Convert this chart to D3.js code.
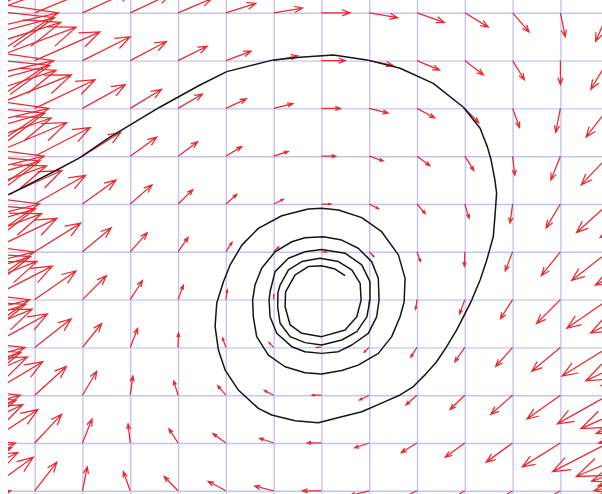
<!DOCTYPE html>
<html>
<head>
<meta charset="utf-8">
<script src="https://cdn.jsdelivr.net/npm/d3@7"></script>
<style>
  html, body { margin: 0; padding: 0; background: #ffffff; }
  svg { display: block; }
</style>
</head>
<body>
<svg id="chart" width="602" height="494"></svg>
<script>
// Direction field of x' = y - x^3, y' = -x on a 0.2 lattice, with one solution curve.

// lattice columns (x) and rows (y)
const gridX = [-2.0, -1.8, -1.6, -1.4, -1.2, -1.0, -0.8, -0.6, -0.4, -0.2, 0.0,
               0.2, 0.4, 0.6, 0.8, 1.0, 1.2, 1.4, 1.6, 1.8, 2.0];
const gridY = [1.4, 1.2, 1.0, 0.8, 0.6, 0.4, 0.2, 0.0, -0.2, -0.4, -0.6, -0.8, -1.0];

// horizontal rate x' at each lattice point, one row per gridY entry
const xRate = [
  [9.40, 7.23, 5.50, 4.14, 3.13, 2.40, 1.91, 1.62, 1.46, 1.41, 1.40, 1.39, 1.34, 1.18, 0.89, 0.40, -0.33, -1.34, -2.70, -4.43, -6.60],
  [9.20, 7.03, 5.30, 3.94, 2.93, 2.20, 1.71, 1.42, 1.26, 1.21, 1.20, 1.19, 1.14, 0.98, 0.69, 0.20, -0.53, -1.54, -2.90, -4.63, -6.80],
  [9.00, 6.83, 5.10, 3.74, 2.73, 2.00, 1.51, 1.22, 1.06, 1.01, 1.00, 0.99, 0.94, 0.78, 0.49, 0.00, -0.73, -1.74, -3.10, -4.83, -7.00],
  [8.80, 6.63, 4.90, 3.54, 2.53, 1.80, 1.31, 1.02, 0.86, 0.81, 0.80, 0.79, 0.74, 0.58, 0.29, -0.20, -0.93, -1.94, -3.30, -5.03, -7.20],
  [8.60, 6.43, 4.70, 3.34, 2.33, 1.60, 1.11, 0.82, 0.66, 0.61, 0.60, 0.59, 0.54, 0.38, 0.09, -0.40, -1.13, -2.14, -3.50, -5.23, -7.40],
  [8.40, 6.23, 4.50, 3.14, 2.13, 1.40, 0.91, 0.62, 0.46, 0.41, 0.40, 0.39, 0.34, 0.18, -0.11, -0.60, -1.33, -2.34, -3.70, -5.43, -7.60],
  [8.20, 6.03, 4.30, 2.94, 1.93, 1.20, 0.71, 0.42, 0.26, 0.21, 0.20, 0.19, 0.14, -0.02, -0.31, -0.80, -1.53, -2.54, -3.90, -5.63, -7.80],
  [8.00, 5.83, 4.10, 2.74, 1.73, 1.00, 0.51, 0.22, 0.06, 0.01, 0.00, -0.01, -0.06, -0.22, -0.51, -1.00, -1.73, -2.74, -4.10, -5.83, -8.00],
  [7.80, 5.63, 3.90, 2.54, 1.53, 0.80, 0.31, 0.02, -0.14, -0.19, -0.20, -0.21, -0.26, -0.42, -0.71, -1.20, -1.93, -2.94, -4.30, -6.03, -8.20],
  [7.60, 5.43, 3.70, 2.34, 1.33, 0.60, 0.11, -0.18, -0.34, -0.39, -0.40, -0.41, -0.46, -0.62, -0.91, -1.40, -2.13, -3.14, -4.50, -6.23, -8.40],
  [7.40, 5.23, 3.50, 2.14, 1.13, 0.40, -0.09, -0.38, -0.54, -0.59, -0.60, -0.61, -0.66, -0.82, -1.11, -1.60, -2.33, -3.34, -4.70, -6.43, -8.60],
  [7.20, 5.03, 3.30, 1.94, 0.93, 0.20, -0.29, -0.58, -0.74, -0.79, -0.80, -0.81, -0.86, -1.02, -1.31, -1.80, -2.53, -3.54, -4.90, -6.63, -8.80],
  [7.00, 4.83, 3.10, 1.74, 0.73, 0.00, -0.49, -0.78, -0.94, -0.99, -1.00, -1.01, -1.06, -1.22, -1.51, -2.00, -2.73, -3.74, -5.10, -6.83, -9.00]
];

// vertical rate y' for each column (identical down every row)
const yRate = [2.0, 1.8, 1.6, 1.4, 1.2, 1.0, 0.8, 0.6, 0.4, 0.2, 0.0,
               -0.2, -0.4, -0.6, -0.8, -1.0, -1.2, -1.4, -1.6, -1.8, -2.0];

// grid line positions
const gridLinesX = [-1.2, -1.0, -0.8, -0.6, -0.4, -0.2, 0.0, 0.2, 0.4, 0.6, 0.8, 1.0];
const gridLinesY = [1.2, 1.0, 0.8, 0.6, 0.4, 0.2, 0.0, -0.2, -0.4, -0.6, -0.8];

// solution curve, traced from the left edge and spiralling into the origin
const trajectory = [
  [-1.310, 0.438], [-1.123, 0.534], [-1.014, 0.592], [-0.885, 0.680], [-0.675, 0.806],
  [-0.508, 0.898], [-0.396, 0.954], [-0.201, 1.003], [-0.090, 1.014], [0.050, 1.023],
  [0.190, 1.003], [0.329, 0.968], [0.468, 0.905], [0.594, 0.805], [0.664, 0.717],
  [0.694, 0.640], [0.710, 0.584], [0.726, 0.500], [0.733, 0.445], [0.726, 0.347],
  [0.719, 0.263], [0.692, 0.166], [0.664, 0.082], [0.629, -0.002], [0.594, -0.072],
  [0.566, -0.127], [0.524, -0.197], [0.482, -0.260], [0.433, -0.315], [0.385, -0.364],
  [0.329, -0.399], [0.266, -0.427], [0.169, -0.469], [0.085, -0.490], [-0.013, -0.515],
  [-0.110, -0.507], [-0.208, -0.483], [-0.264, -0.455], [-0.348, -0.378], [-0.403, -0.295],
  [-0.431, -0.211], [-0.445, -0.113], [-0.438, -0.014], [-0.410, 0.075], [-0.382, 0.145],
  [-0.333, 0.228], [-0.264, 0.298], [-0.166, 0.351], [-0.055, 0.379], [0.001, 0.382],
  [0.071, 0.375], [0.169, 0.343], [0.252, 0.284], [0.322, 0.187], [0.350, 0.089],
  [0.346, -0.010], [0.329, -0.072], [0.294, -0.155], [0.238, -0.225], [0.154, -0.274],
  [0.085, -0.297], [0.001, -0.311], [-0.069, -0.306], [-0.152, -0.281], [-0.222, -0.232],
  [-0.271, -0.155], [-0.285, -0.072], [-0.288, -0.002], [-0.278, 0.061], [-0.250, 0.131],
  [-0.194, 0.200], [-0.124, 0.242], [-0.069, 0.259], [0.008, 0.263], [0.085, 0.249],
  [0.154, 0.215], [0.210, 0.159], [0.238, 0.089], [0.241, -0.002], [0.231, -0.072],
  [0.196, -0.141], [0.127, -0.190], [0.071, -0.218], [0.001, -0.225], [-0.069, -0.218],
  [-0.124, -0.197], [-0.187, -0.141], [-0.215, -0.072], [-0.219, -0.002], [-0.215, 0.033],
  [-0.194, 0.117], [-0.138, 0.173], [-0.069, 0.200], [0.001, 0.210], [0.099, 0.194],
  [0.169, 0.145], [0.203, 0.075], [0.203, -0.002], [0.190, -0.072], [0.148, -0.134],
  [0.085, -0.169], [0.001, -0.190], [-0.069, -0.180], [-0.131, -0.155], [-0.173, -0.099],
  [-0.183, -0.030], [-0.182, 0.028], [-0.173, 0.061], [-0.138, 0.124], [-0.082, 0.159],
  [-0.006, 0.173], [0.071, 0.159], [0.127, 0.124], [0.162, 0.068], [0.166, -0.002],
  [0.148, -0.072], [0.099, -0.127], [0.001, -0.155], [-0.082, -0.141], [-0.131, -0.106],
  [-0.152, -0.030], [-0.150, 0.032], [-0.110, 0.103], [-0.055, 0.138], [0.001, 0.142],
  [0.057, 0.128], [0.099, 0.100]
];

const arrowScale = 0.1;   // arrow length as a fraction of the rate vector
const headFrac = 0.3;     // barb length relative to arrow length
const headAngle = 21 * Math.PI / 180;

const width = 602, height = 494;
const plotLeft = 8;

const x = d3.scaleLinear().domain([-1.345, 1.174]).range([0, width]);
const y = d3.scaleLinear().domain([-0.8134, 1.2536]).range([height, 0]);

const svg = d3.select("#chart");

svg.append("defs").append("clipPath").attr("id", "plot-clip")
  .append("rect")
  .attr("x", plotLeft).attr("y", 0)
  .attr("width", width - plotLeft).attr("height", height);

const plot = svg.append("g").attr("clip-path", "url(#plot-clip)");

// grid drawn as full-length axis ticks
const gridColor = "#c4c4f2";
const vGrid = plot.append("g")
  .attr("transform", `translate(0,${height})`)
  .call(d3.axisBottom(x).tickValues(gridLinesX).tickSize(-height).tickFormat(""));
const hGrid = plot.append("g")
  .attr("transform", `translate(${plotLeft},0)`)
  .call(d3.axisLeft(y).tickValues(gridLinesY).tickSize(-(width - plotLeft)).tickFormat(""));
[vGrid, hGrid].forEach(g => {
  g.select(".domain").remove();
  g.selectAll(".tick line").attr("stroke", gridColor).attr("stroke-width", 1.4);
});

// arrows of the direction field
const arrows = [];
gridY.forEach((gy, r) => {
  gridX.forEach((gx, c) => {
    const u = xRate[r][c], v = yRate[c];
    if (u === 0 && v === 0) return;
    arrows.push({ gx, gy, u, v });
  });
});

function arrowPath(d) {
  const x0 = x(d.gx), y0 = y(d.gy);
  const x1 = x(d.gx + arrowScale * d.u), y1 = y(d.gy + arrowScale * d.v);
  const dx = x1 - x0, dy = y1 - y0;
  const len = Math.hypot(dx, dy);
  const back = Math.atan2(-dy, -dx);
  const h = headFrac * len;
  const ax = x1 + h * Math.cos(back + headAngle), ay = y1 + h * Math.sin(back + headAngle);
  const bx = x1 + h * Math.cos(back - headAngle), by = y1 + h * Math.sin(back - headAngle);
  return `M${x0},${y0}L${x1},${y1}M${ax},${ay}L${x1},${y1}L${bx},${by}`;
}

plot.append("g")
  .selectAll("path")
  .data(arrows)
  .join("path")
  .attr("d", arrowPath)
  .attr("fill", "none")
  .attr("stroke", "#e82a30")
  .attr("stroke-width", 1.25)
  .attr("stroke-linejoin", "miter");

// solution curve
const line = d3.line().x(d => x(d[0])).y(d => y(d[1]));
plot.append("path")
  .datum(trajectory)
  .attr("d", line)
  .attr("fill", "none")
  .attr("stroke", "#151515")
  .attr("stroke-width", 1.5)
  .attr("stroke-linejoin", "round");
</script>
</body>
</html>
